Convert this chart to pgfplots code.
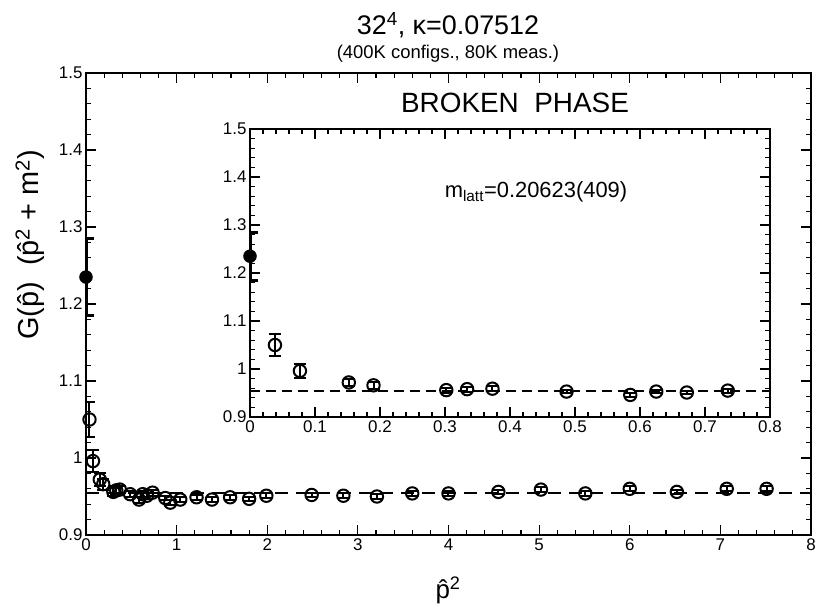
\documentclass[border=0pt]{standalone}
\usepackage{fontspec}
\setmainfont{Liberation Sans}
\usepackage{pgfplots}
\usepackage{pgfplotstable}
\pgfplotsset{compat=1.18}

\pgfplotstableread{
x y e
0.0384 1.050 0.023
0.0768 0.996 0.014
0.152 0.972 0.008
0.190 0.966 0.007
0.302 0.956 0.005
0.334 0.958 0.005
0.373 0.959 0.005
0.487 0.953 0.004
0.585 0.946 0.004
0.625 0.953 0.004
0.672 0.951 0.004
0.735 0.955 0.004
0.875 0.948 0.003
0.930 0.942 0.003
1.040 0.946 0.003
1.220 0.949 0.003
1.390 0.946 0.003
1.590 0.949 0.003
1.800 0.947 0.003
1.990 0.951 0.003
2.490 0.952 0.003
2.840 0.951 0.003
3.210 0.950 0.003
3.600 0.954 0.003
4.000 0.954 0.003
4.550 0.956 0.003
5.020 0.959 0.003
5.510 0.954 0.003
6.000 0.960 0.003
6.520 0.956 0.003
7.070 0.960 0.003
7.510 0.960 0.003
}\maindata

\pgfplotstableread{
x y e
0 1.235 0.050
}\zerodata

\pgfplotstableread{
x y
0 0.955
8 0.955
}\fitline

\begin{document}
\begin{tikzpicture}
\pgfplotsset{
  gstyle/.style={
    scale only axis,
    axis line style={line width=1.6bp},
    tick align=inside,
    major tick length=10bp,
    minor tick length=5bp,
    tick style={line width=1.2bp, black},
    minor x tick num=4,
    minor y tick num=4,
    /pgf/number format/assume math mode=true,
    tick label style={font=\fontsize{17}{19}\selectfont},
    ymin=0.9, ymax=1.5,
    ytick={0.9,1,1.1,1.2,1.3,1.4,1.5},
    yticklabels={0.9,1,1.1,1.2,1.3,1.4,1.5},
  },
  open/.style={only marks, mark=o, mark size=6.2bp, mark options={line width=2bp},
    error bars/y dir=both, error bars/y explicit,
    error bars/error bar style={line width=2bp},
    error bars/error mark options={rotate=90, mark size=6bp, line width=2bp}},
  filled/.style={only marks, mark=*, mark size=6.5bp,
    error bars/y dir=both, error bars/y explicit,
    error bars/error bar style={line width=3.5bp},
    error bars/error mark options={rotate=90, mark size=8bp, line width=3bp}},
}
\begin{axis}[gstyle, name=main,
  width=725bp, height=462bp,
  xmin=0, xmax=8,
  xtick={0,1,2,3,4,5,6,7,8},
  xticklabels={0,1,2,3,4,5,6,7,8},
]
\addplot[black, line width=2bp, dash pattern=on 13bp off 8bp] table[x=x,y=y]{\fitline};
\addplot[black, open] table[x=x,y=y,y error=e]{\maindata};
\addplot[black, filled] table[x=x,y=y,y error=e]{\zerodata};
\end{axis}

\begin{axis}[gstyle,
  at={(164bp,118bp)}, anchor=south west,
  width=520bp, height=288bp,
  xmin=0, xmax=0.8,
  xtick={0,0.1,0.2,0.3,0.4,0.5,0.6,0.7,0.8},
  xticklabels={0,0.1,0.2,0.3,0.4,0.5,0.6,0.7,0.8},
  axis background/.style={fill=white},
]
\addplot[black, line width=2bp, dash pattern=on 10bp off 6bp] table[x=x,y=y]{\fitline};
\addplot[black, restrict x to domain=0.01:0.8, open] table[x=x,y=y,y error=e]{\maindata};
\addplot[black, filled] table[x=x,y=y,y error=e]{\zerodata};
\end{axis}

\node[font=\fontsize{27}{30}\selectfont] at (362bp,510bp) {32\textsuperscript{4}, κ=0.07512};
\node[font=\fontsize{18.5}{20}\selectfont] at (362bp,481bp) {(400K configs., 80K meas.)};
\node[font=\fontsize{28}{30}\selectfont] at (429bp,432bp) {BROKEN\ \ PHASE};
\node[font=\fontsize{22}{24}\selectfont] at (450bp,343bp) {m\textsubscript{latt}=0.20623(409)};
\node[font=\fontsize{29}{32}\selectfont, rotate=90] at (-56bp,290bp) {G(\^{p})\ \ (\^{p}\textsuperscript{2} + m\textsuperscript{2})};
\node[font=\fontsize{26}{28}\selectfont] at (362bp,-55bp) {\^{p}\textsuperscript{2}};

\pgfresetboundingbox
\path (-86bp,-75bp) rectangle (731bp,535bp);
\end{tikzpicture}
\end{document}
